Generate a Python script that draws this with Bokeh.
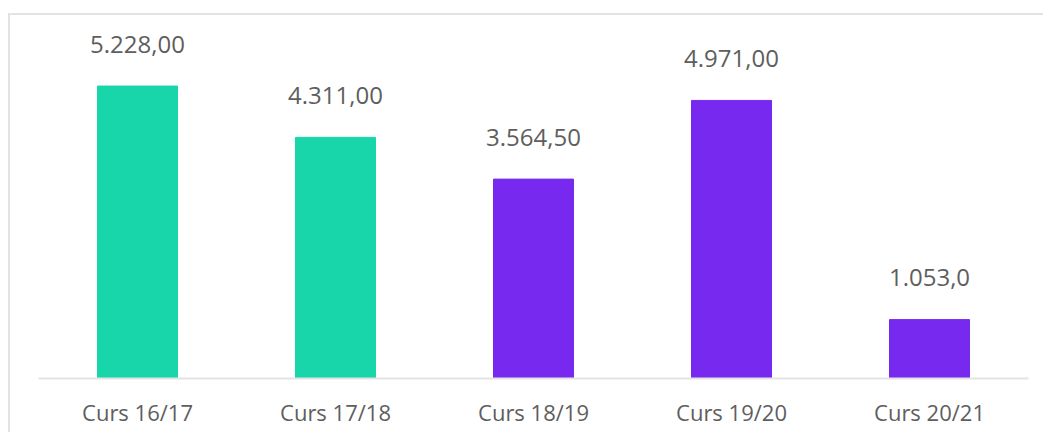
from bokeh.plotting import figure
from bokeh.models import ColumnDataSource, Range1d, FactorRange
from bokeh.core.properties import value
from bokeh.embed import file_html
from bokeh.resources import INLINE

categories = ["Curs 16/17", "Curs 17/18", "Curs 18/19", "Curs 19/20", "Curs 20/21"]
values = [5228.0, 4311.0, 3564.5, 4971.0, 1053.0]
value_labels = ["5.228,00", "4.311,00", "3.564,50", "4.971,00", "1.053,0"]
bar_colors = ["#18D6AA", "#18D6AA", "#7829F0", "#7829F0", "#7829F0"]

FONT = "Open Sans"
TEXT_COLOR = "#5e5e5e"

source = ColumnDataSource(dict(cat=categories, val=values, lab=value_labels, col=bar_colors))

p = figure(
    x_range=FactorRange(factors=categories, range_padding=0),
    y_range=Range1d(0, 6400),
    width=1035, height=419,
    output_backend="svg", toolbar_location=None,
    min_border_left=28, min_border_right=17, min_border_top=5, min_border_bottom=56,
)
p.styles = {"border-top": "2px solid #e3e3e3", "border-left": "2px solid #e3e3e3",
            "margin-top": "13px", "margin-left": "8px"}

p.vbar(x="cat", top="val", width=0.404, color="col", source=source)
p.text(x="cat", y="val", text="lab", source=source, y_offset=-42,
       text_align="center", text_baseline="alphabetic",
       text_font=value(FONT), text_font_size="24px", text_color=TEXT_COLOR)

p.outline_line_color = None
p.xgrid.grid_line_color = None
p.ygrid.grid_line_color = None
p.yaxis.visible = False
p.xaxis.axis_line_color = "#e3e3e3"
p.xaxis.axis_line_width = 2
p.xaxis.major_tick_line_color = None
p.xaxis.minor_tick_line_color = None
p.xaxis.major_label_text_font = FONT
p.xaxis.major_label_text_font_size = "22px"
p.xaxis.major_label_text_color = TEXT_COLOR
p.xaxis.major_label_standoff = 12
p.background_fill_color = "white"
p.border_fill_color = "white"

open("out.html", "w").write(file_html(p, INLINE))
